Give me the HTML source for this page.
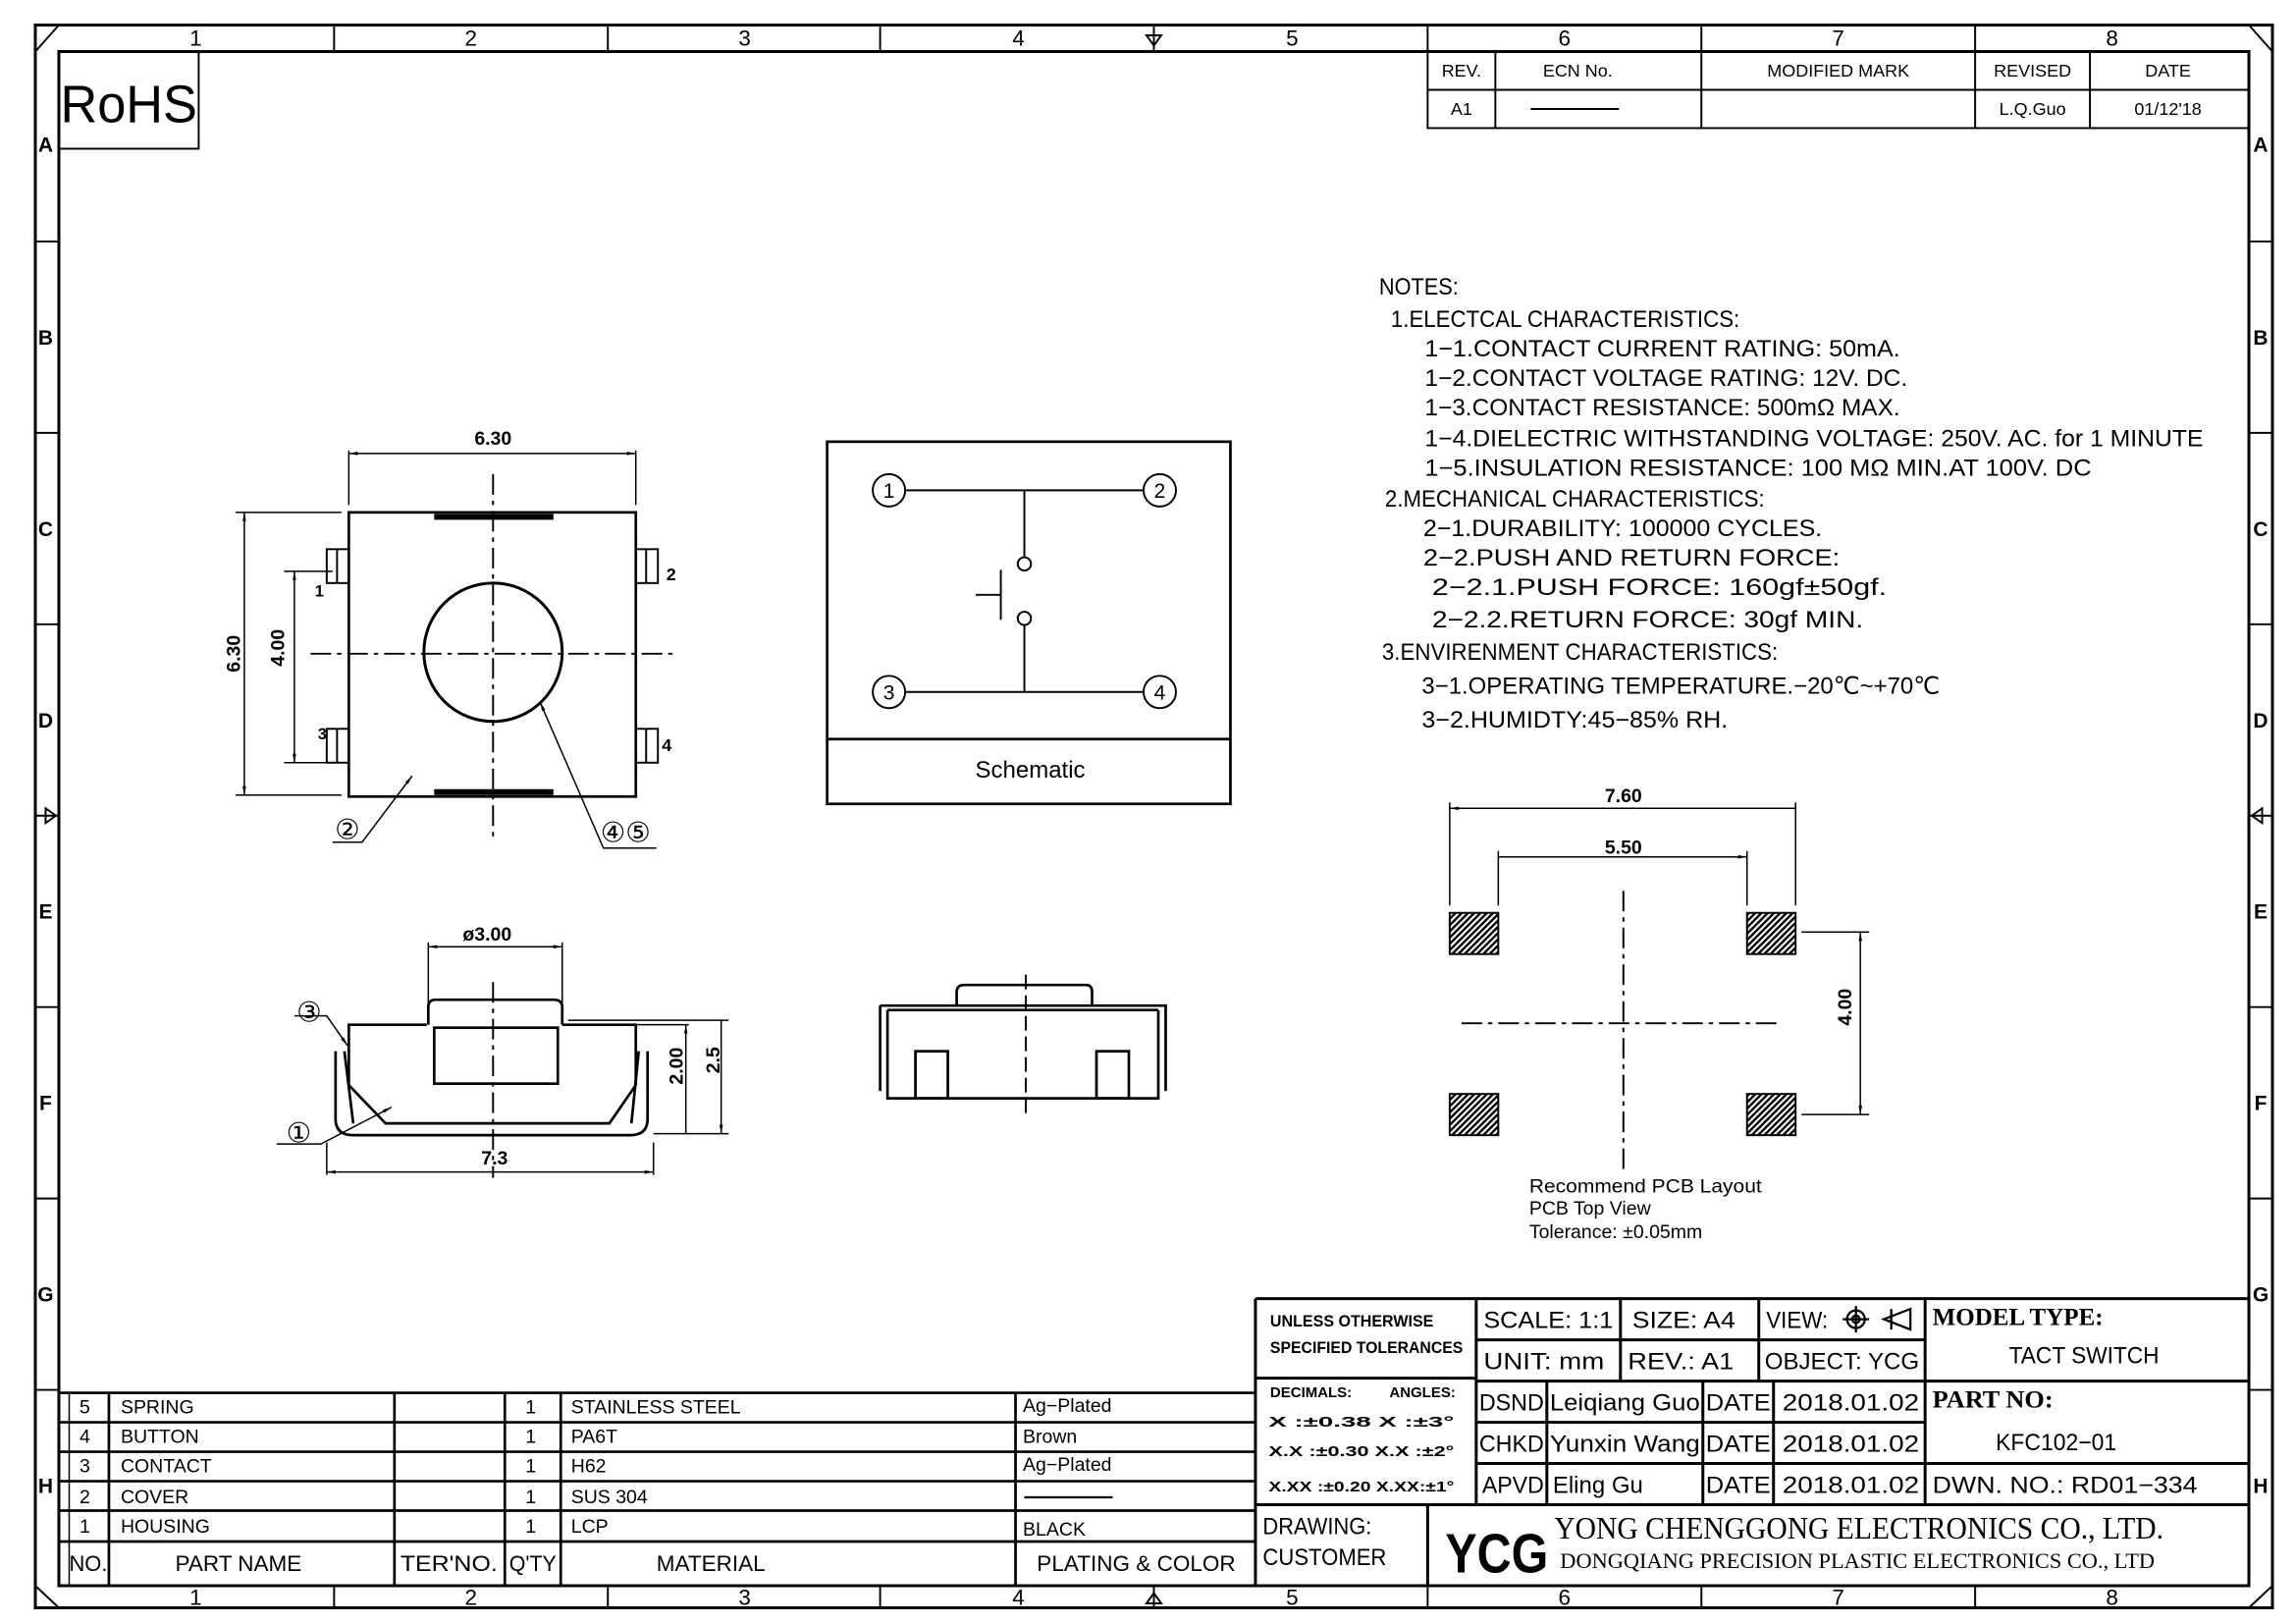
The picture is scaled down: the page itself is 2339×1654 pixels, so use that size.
<!DOCTYPE html>
<html><head><meta charset="utf-8"><style>
html,body{margin:0;padding:0;background:#fff}
svg{display:block}
text{font-family:"Liberation Sans",sans-serif;fill:#000}
</style></head><body>
<svg width="2339" height="1654" viewBox="0 0 1560 1103" preserveAspectRatio="none" xmlns="http://www.w3.org/2000/svg">
<defs>
<pattern id="h" width="3" height="3" patternUnits="userSpaceOnUse" patternTransform="rotate(45)"><rect width="3" height="3" fill="#fff"/><rect width="1.6" height="3" fill="#000"/></pattern>
<marker id="a" viewBox="0 0 10 10" refX="10" refY="5" markerWidth="8" markerHeight="6" orient="auto-start-reverse"><path d="M0,3L10,5L0,7z" fill="#000"/></marker>
</defs>
<g stroke="#000" fill="none" stroke-width="1.3">
<rect x="24" y="17" width="1520" height="1075" stroke-width="2"/>
<rect x="40" y="35" width="1488" height="1042" stroke-width="2"/>
<path d="M24,35L40,17M1528,17L1544,35M24,1077L40,1092M1528,1092L1544,1077"/>
<path d="M227,17V35M413,17V35M598,17V35M970,17V35M1156,17V35M1342,17V35M227,1077V1092M413,1077V1092M598,1077V1092M970,1077V1092M1156,1077V1092M1342,1077V1092"/>
<path d="M784,17V35M779,24L789,24L784,31zM784,1077V1092M779,1089L789,1089L784,1082z"/>
<path d="M24,164H40M24,294H40M24,424H40M24,684H40M24,814H40M24,944H40M1528,164H1544M1528,294H1544M1528,424H1544M1528,684H1544M1528,814H1544M1528,944H1544"/>
<path d="M24,554H40M31,549V559L38,554zM1528,554H1544M1537,549V559L1530,554z"/>
<rect x="40" y="35" width="95" height="66"/>
<rect x="970" y="35" width="558" height="52"/>
<path d="M970,61H1528M1016,35V87M1156,35V87M1342,35V87M1420,35V87M1040,74H1100"/>
<rect x="237" y="348" width="195" height="193" stroke-width="1.8"/>
<path d="M295,351H376M295,538H376" stroke-width="4"/>
<circle cx="335" cy="443" r="47" stroke-width="2"/>
<path d="M211,444H459M335,322V572" stroke-dasharray="14,4,3,4"/>
<rect x="222" y="373" width="15" height="23"/><path d="M229,373V396"/>
<rect x="222" y="495" width="15" height="23"/><path d="M229,495V518"/>
<rect x="432" y="373" width="15" height="23"/><path d="M439,373V396"/>
<rect x="432" y="495" width="15" height="23"/><path d="M439,495V518"/>
<path d="M237,343V306M432,343V306" stroke-width="1"/>
<path d="M237,308H432" stroke-width="1" marker-start="url(#a)" marker-end="url(#a)"/>
<path d="M232,348H160M232,540H160" stroke-width="1"/>
<path d="M166,348V540" stroke-width="1" marker-start="url(#a)" marker-end="url(#a)"/>
<path d="M226,388H193M226,518H193" stroke-width="1"/>
<path d="M200,388V518" stroke-width="1" marker-start="url(#a)" marker-end="url(#a)"/>
<path d="M226,572H246L280,527" stroke-width="1" marker-end="url(#a)"/>
<path d="M446,576H410L367,477" stroke-width="1" marker-end="url(#a)"/>
<path d="M237,737V696H290M382,696H432V737" stroke-width="1.8"/>
<path d="M291,696V684Q291,679 296,679H376Q382,679 382,684V696" stroke-width="1.8"/>
<rect x="295" y="698" width="84" height="38" stroke-width="1.8"/>
<path d="M237,737L262,763H414L432,737" stroke-width="1.8"/>
<path d="M228,714V760Q228,771 240,771H428Q440,771 440,760V714M234,714L240,763M434,714L429,763" stroke-width="1.8"/>
<path d="M335,667V800" stroke-dasharray="14,4,3,4"/>
<path d="M291,690V640M382,690V640" stroke-width="1"/>
<path d="M291,643H382" stroke-width="1" marker-start="url(#a)" marker-end="url(#a)"/>
<path d="M386,693H495M432,696H468M444,770H495" stroke-width="1"/>
<path d="M466,696V770M490,693V770" stroke-width="1" marker-start="url(#a)" marker-end="url(#a)"/>
<path d="M222,776V798M444,776V798" stroke-width="1"/>
<path d="M222,796H444" stroke-width="1" marker-start="url(#a)" marker-end="url(#a)"/>
<path d="M200,690H222L236,710" stroke-width="1" marker-end="url(#a)"/>
<path d="M188,777H218L266,752" stroke-width="1" marker-end="url(#a)"/>
<rect x="562" y="300" width="274" height="246" stroke-width="1.8"/>
<path d="M562,502H836" stroke-width="1.8"/>
<circle cx="604" cy="333" r="11"/><circle cx="788" cy="333" r="11"/>
<circle cx="604" cy="470" r="11"/><circle cx="788" cy="470" r="11"/>
<path d="M615,333H777M696,333V378M615,470H777M696,470V424M680,387V421M663,404H680"/>
<circle cx="696" cy="383" r="4.5"/><circle cx="696" cy="420" r="4.5"/>
<path d="M650,683V674Q650,669 655,669H738Q742,669 742,674V683" stroke-width="1.8"/>
<path d="M598,683H792V741M598,683V741M603,686H787M603,686V746H787V686" stroke-width="1.8"/>
<rect x="622" y="714" width="22" height="32" stroke-width="1.8"/><rect x="745" y="714" width="22" height="32" stroke-width="1.8"/>
<path d="M697,662V760" stroke-dasharray="10,4"/>
<rect x="985" y="620" width="33" height="28" fill="url(#h)"/><rect x="1187" y="620" width="33" height="28" fill="url(#h)"/>
<rect x="985" y="743" width="33" height="28" fill="url(#h)"/><rect x="1187" y="743" width="33" height="28" fill="url(#h)"/>
<path d="M993,695H1210M1103,605V795" stroke-dasharray="14,4,3,4"/>
<path d="M985,615V545M1220,615V545M1018,615V578M1187,615V578" stroke-width="1"/>
<path d="M985,549H1220M1018,582H1187" stroke-width="1" marker-start="url(#a)" marker-end="url(#a)"/>
<path d="M1224,633H1270M1224,757H1270" stroke-width="1"/>
<path d="M1264,633V757" stroke-width="1" marker-start="url(#a)" marker-end="url(#a)"/>
<path d="M853,882H1528M853,882V1077M853,1022H1528M970,1022V1077M853,936H1003M1003,910H1308M1003,938H1528M1003,966H1308M1003,994H1528M1003,882V1022M1101,882V938M1195,882V938M1308,882V1022M1051,938V1022M1157,938V1022M1205,938V1022" stroke-width="2"/>
<path d="M40,946H853M40,966H853M40,986H853M40,1006H853M40,1026H853M40,1047H853M74,946V1077M268,946V1077M343,946V1077M381,946V1077M690,946V1077" stroke-width="1.8"/>
<path d="M47,946V1077" stroke-width="1"/>
<path d="M696,1017H756" stroke-width="1.5"/>
</g>
<g font-size="15" text-anchor="middle">
<text x="133" y="31">1</text><text x="320" y="31">2</text><text x="506" y="31">3</text><text x="692" y="31">4</text><text x="878" y="31">5</text><text x="1063" y="31">6</text><text x="1249" y="31">7</text><text x="1435" y="31">8</text>
<text x="133" y="1090">1</text><text x="320" y="1090">2</text><text x="506" y="1090">3</text><text x="692" y="1090">4</text><text x="878" y="1090">5</text><text x="1063" y="1090">6</text><text x="1249" y="1090">7</text><text x="1435" y="1090">8</text>
</g>
<g font-size="14" text-anchor="middle" font-weight="bold">
<text x="31" y="103">A</text><text x="31" y="234">B</text><text x="31" y="364">C</text><text x="31" y="494">D</text><text x="31" y="624">E</text><text x="31" y="754">F</text><text x="31" y="884">G</text><text x="31" y="1014">H</text>
<text x="1536" y="103">A</text><text x="1536" y="234">B</text><text x="1536" y="364">C</text><text x="1536" y="494">D</text><text x="1536" y="624">E</text><text x="1536" y="754">F</text><text x="1536" y="884">G</text><text x="1536" y="1014">H</text>
</g>
<text x="41" y="83" font-size="36" textLength="93" lengthAdjust="spacingAndGlyphs">RoHS</text>
<g font-size="12" text-anchor="middle">
<text x="993" y="52">REV.</text><text x="1072" y="52">ECN No.</text><text x="1249" y="52">MODIFIED MARK</text><text x="1381" y="52">REVISED</text><text x="1473" y="52">DATE</text>
<text x="993" y="78">A1</text><text x="1381" y="78">L.Q.Guo</text><text x="1473" y="78">01/12'18</text>
</g>
<g font-size="16">
<text x="937" y="200" textLength="54" lengthAdjust="spacingAndGlyphs">NOTES:</text>
<text x="945" y="222" textLength="237" lengthAdjust="spacingAndGlyphs">1.ELECTCAL  CHARACTERISTICS:</text>
<text x="968" y="242" textLength="323" lengthAdjust="spacingAndGlyphs">1−1.CONTACT  CURRENT  RATING:   50mA.</text>
<text x="968" y="262" textLength="328" lengthAdjust="spacingAndGlyphs">1−2.CONTACT  VOLTAGE  RATING: 12V.  DC.</text>
<text x="968" y="282" textLength="323" lengthAdjust="spacingAndGlyphs">1−3.CONTACT  RESISTANCE: 500mΩ  MAX.</text>
<text x="968" y="303" textLength="529" lengthAdjust="spacingAndGlyphs">1−4.DIELECTRIC  WITHSTANDING  VOLTAGE: 250V.  AC.  for  1  MINUTE</text>
<text x="968" y="323" textLength="453" lengthAdjust="spacingAndGlyphs">1−5.INSULATION  RESISTANCE:  100  MΩ  MIN.AT  100V.  DC</text>
<text x="941" y="344" textLength="258" lengthAdjust="spacingAndGlyphs">2.MECHANICAL  CHARACTERISTICS:</text>
<text x="967" y="364" textLength="271" lengthAdjust="spacingAndGlyphs">2−1.DURABILITY:  100000  CYCLES.</text>
<text x="967" y="384" textLength="283" lengthAdjust="spacingAndGlyphs">2−2.PUSH  AND  RETURN  FORCE:</text>
<text x="973" y="404" textLength="309" lengthAdjust="spacingAndGlyphs">2−2.1.PUSH  FORCE:    160gf±50gf.</text>
<text x="973" y="426" textLength="293" lengthAdjust="spacingAndGlyphs">2−2.2.RETURN  FORCE:  30gf  MIN.</text>
<text x="939" y="448" textLength="269" lengthAdjust="spacingAndGlyphs">3.ENVIRENMENT  CHARACTERISTICS:</text>
<text x="966" y="471" textLength="352" lengthAdjust="spacingAndGlyphs">3−1.OPERATING  TEMPERATURE.−20℃~+70℃</text>
<text x="966" y="494" textLength="208" lengthAdjust="spacingAndGlyphs">3−2.HUMIDTY:45−85%  RH.</text>
</g>
<g font-size="13" font-weight="bold" text-anchor="middle">
<text x="335" y="302">6.30</text>
<text x="331" y="639">ø3.00</text>
<text x="336" y="791">7.3</text>
<text x="1103" y="545">7.60</text>
<text x="1103" y="580">5.50</text>
<text transform="translate(163,444) rotate(-90)">6.30</text>
<text transform="translate(193,440) rotate(-90)">4.00</text>
<text transform="translate(464,724) rotate(-90)">2.00</text>
<text transform="translate(489,720) rotate(-90)">2.5</text>
<text transform="translate(1258,684) rotate(-90)">4.00</text>
<text x="217" y="405" font-size="11">1</text><text x="456" y="394" font-size="12">2</text>
<text x="219" y="502" font-size="11">3</text><text x="453" y="510" font-size="12">4</text>
</g>
<g font-size="19" text-anchor="middle" style="font-family:'DejaVu Sans',sans-serif">
<text x="236" y="570">②</text><text x="425" y="572">④⑤</text>
<text x="210" y="694">③</text><text x="203" y="776">①</text>
</g>
<g font-size="14" text-anchor="middle">
<text x="604" y="338">1</text><text x="788" y="338">2</text><text x="604" y="475">3</text><text x="788" y="475">4</text>
</g>
<text x="700" y="528" font-size="16" text-anchor="middle">Schematic</text>
<g font-size="13">
<text x="1039" y="810" textLength="158" lengthAdjust="spacingAndGlyphs">Recommend  PCB  Layout</text>
<text x="1039" y="825">PCB  Top  View</text>
<text x="1039" y="841">Tolerance:  ±0.05mm</text>
</g>
<g font-size="13">
<text x="54" y="960">5</text><text x="82" y="960">SPRING</text><text x="357" y="960">1</text><text x="388" y="960">STAINLESS  STEEL</text><text x="695" y="959">Ag−Plated</text>
<text x="54" y="980">4</text><text x="82" y="980">BUTTON</text><text x="357" y="980">1</text><text x="388" y="980">PA6T</text><text x="695" y="980">Brown</text>
<text x="54" y="1000">3</text><text x="82" y="1000">CONTACT</text><text x="357" y="1000">1</text><text x="388" y="1000">H62</text><text x="695" y="999">Ag−Plated</text>
<text x="54" y="1021">2</text><text x="82" y="1021">COVER</text><text x="357" y="1021">1</text><text x="388" y="1021">SUS  304</text>
<text x="54" y="1041">1</text><text x="82" y="1041">HOUSING</text><text x="357" y="1041">1</text><text x="388" y="1041">LCP</text><text x="695" y="1043">BLACK</text>
</g>
<g font-size="15" text-anchor="middle">
<text x="60" y="1067" textLength="26" lengthAdjust="spacingAndGlyphs">NO.</text><text x="162" y="1067">PART  NAME</text><text x="305" y="1067" textLength="66" lengthAdjust="spacingAndGlyphs">TER'NO.</text><text x="362" y="1067" textLength="32" lengthAdjust="spacingAndGlyphs">Q'TY</text><text x="483" y="1067">MATERIAL</text><text x="772" y="1067" textLength="135" lengthAdjust="spacingAndGlyphs">PLATING  &amp;  COLOR</text>
</g>
<g font-size="11" font-weight="bold">
<text x="863" y="901" textLength="111" lengthAdjust="spacingAndGlyphs">UNLESS  OTHERWISE</text>
<text x="863" y="919" textLength="131" lengthAdjust="spacingAndGlyphs">SPECIFIED  TOLERANCES</text>
<text x="863" y="949" font-size="10">DECIMALS:</text><text x="944" y="949" font-size="10">ANGLES:</text>
<text x="862" y="969" font-size="10" textLength="126" lengthAdjust="spacingAndGlyphs">X      :±0.38   X   :±3°</text>
<text x="862" y="989" font-size="10" textLength="126" lengthAdjust="spacingAndGlyphs">X.X   :±0.30   X.X :±2°</text>
<text x="862" y="1013" font-size="10" textLength="126" lengthAdjust="spacingAndGlyphs">X.XX  :±0.20   X.XX:±1°</text>
</g>
<g font-size="16">
<text x="1008" y="902" textLength="88" lengthAdjust="spacingAndGlyphs">SCALE:  1:1</text><text x="1109" y="902" textLength="70" lengthAdjust="spacingAndGlyphs">SIZE:  A4</text><text x="1200" y="902" textLength="42" lengthAdjust="spacingAndGlyphs">VIEW:</text>
<text x="1008" y="930" textLength="82" lengthAdjust="spacingAndGlyphs">UNIT:  mm</text><text x="1106" y="930" textLength="72" lengthAdjust="spacingAndGlyphs">REV.:  A1</text><text x="1199" y="930" textLength="105" lengthAdjust="spacingAndGlyphs">OBJECT:  YCG</text>
<text x="1005" y="958" textLength="44" lengthAdjust="spacingAndGlyphs">DSND</text><text x="1053" y="958" textLength="102" lengthAdjust="spacingAndGlyphs">Leiqiang  Guo</text><text x="1159" y="958" textLength="44" lengthAdjust="spacingAndGlyphs">DATE</text><text x="1211" y="958" textLength="93" lengthAdjust="spacingAndGlyphs">2018.01.02</text>
<text x="1005" y="986" textLength="44" lengthAdjust="spacingAndGlyphs">CHKD</text><text x="1053" y="986" textLength="102" lengthAdjust="spacingAndGlyphs">Yunxin  Wang</text><text x="1159" y="986" textLength="44" lengthAdjust="spacingAndGlyphs">DATE</text><text x="1211" y="986" textLength="93" lengthAdjust="spacingAndGlyphs">2018.01.02</text>
<text x="1007" y="1014" textLength="42" lengthAdjust="spacingAndGlyphs">APVD</text><text x="1055" y="1014">Eling  Gu</text><text x="1159" y="1014" textLength="44" lengthAdjust="spacingAndGlyphs">DATE</text><text x="1211" y="1014" textLength="93" lengthAdjust="spacingAndGlyphs">2018.01.02</text>
<text x="1313" y="1014" textLength="180" lengthAdjust="spacingAndGlyphs">DWN.  NO.:  RD01−334</text>
<text x="1365" y="926" textLength="102" lengthAdjust="spacingAndGlyphs">TACT  SWITCH</text>
<text x="1356" y="985" textLength="82" lengthAdjust="spacingAndGlyphs">KFC102−01</text>
<text x="858" y="1042" textLength="74" lengthAdjust="spacingAndGlyphs">DRAWING:</text><text x="858" y="1063" textLength="84" lengthAdjust="spacingAndGlyphs">CUSTOMER</text>
</g>
<g font-size="17" font-weight="bold">
<text x="1313" y="900" style="font-family:'Liberation Serif',serif" textLength="116" lengthAdjust="spacingAndGlyphs">MODEL  TYPE:</text>
<text x="1313" y="956" style="font-family:'Liberation Serif',serif" textLength="82" lengthAdjust="spacingAndGlyphs">PART  NO:</text>
</g>
<g fill="none" stroke="#000" stroke-width="1.5">
<circle cx="1261" cy="896" r="6"/><circle cx="1261" cy="896" r="2.5"/><path d="M1252,896H1270M1261,887V905M1280,896L1298,889V903zM1285,889V903"/>
</g>
<text x="982" y="1068" font-size="38" font-weight="bold" textLength="70" lengthAdjust="spacingAndGlyphs">YCG</text>
<text x="1056" y="1045" font-size="21" style="font-family:'Liberation Serif',serif" textLength="414" lengthAdjust="spacingAndGlyphs">YONG  CHENGGONG  ELECTRONICS  CO., LTD.</text>
<text x="1060" y="1065" font-size="15" style="font-family:'Liberation Serif',serif" textLength="404" lengthAdjust="spacingAndGlyphs">DONGQIANG  PRECISION  PLASTIC  ELECTRONICS  CO., LTD</text>
</svg>
</body></html>
